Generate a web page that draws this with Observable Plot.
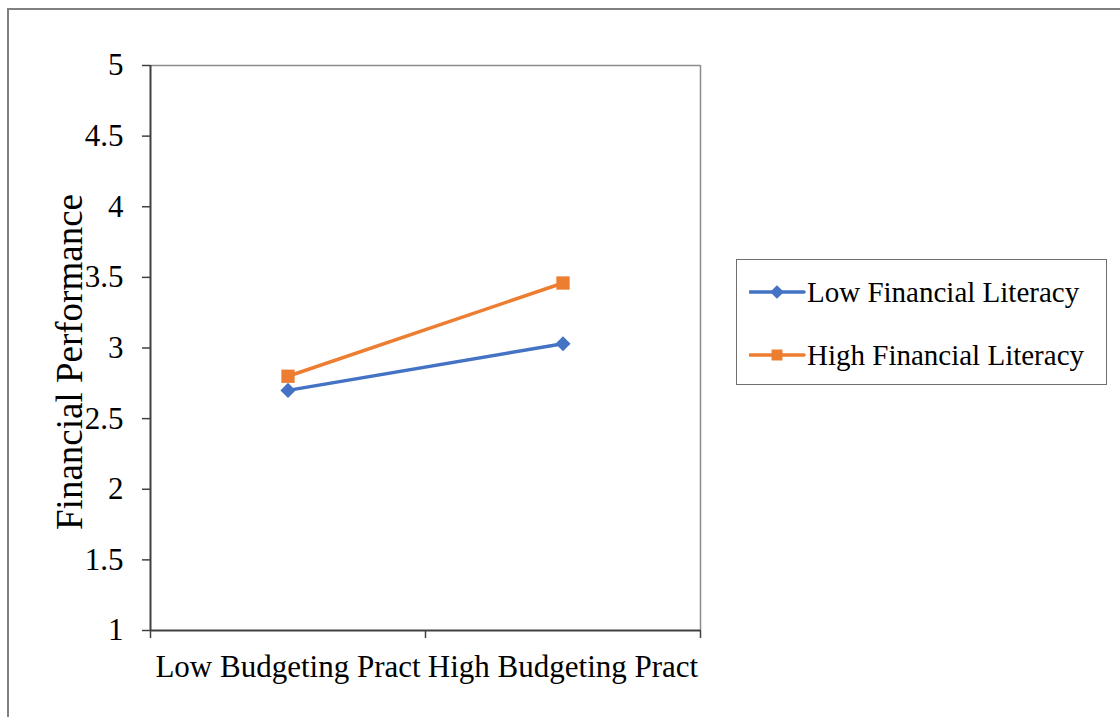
<!DOCTYPE html>
<html>
<head>
<meta charset="utf-8">
<script src="https://cdn.jsdelivr.net/npm/d3@7"></script>
<script src="https://cdn.jsdelivr.net/npm/@observablehq/plot@0.6"></script>
<style>
  html, body { margin: 0; padding: 0; background: #fff; overflow: hidden; }
  #wrap { position: relative; width: 1120px; height: 717px; font-family: "Liberation Serif", "Times New Roman", serif; }
  #outer { position: absolute; left: 7px; top: 8px; width: 1200px; height: 800px; border-left: 2px solid #808080; border-top: 2px solid #808080; }
  #chart { position: absolute; left: 0; top: 0; }
  #legend { position: absolute; left: 736px; top: 259px; width: 371px; height: 126px; box-sizing: border-box; border: 1.5px solid #6f6f6f; background: #fff; }
  #legend .row { position: absolute; left: 12px; height: 34px; display: flex; align-items: center; font-size: 29px; color: #000; white-space: nowrap; }
</style>
</head>
<body>
<div id="wrap">
  <div id="outer"></div>
  <div id="chart"></div>
  <div id="legend"></div>
</div>
<script>
const categories = ["Low Budgeting Pract", "High Budgeting Pract"];
const seriesNames = ["Low Financial Literacy", "High Financial Literacy"];
const lowLiteracy = [2.70, 3.03];
const highLiteracy = [2.80, 3.46];
const seriesColors = ["#4472C4", "#ED7D31"];
const seriesSymbols = ["diamond2", "square"];
const yTicks = [1, 1.5, 2, 2.5, 3, 3.5, 4, 4.5, 5];
const yTitle = "Financial Performance";

const values = [lowLiteracy, highLiteracy];
const data = [];
seriesNames.forEach((s, si) => {
  categories.forEach((c, ci) => {
    data.push({series: s, category: c, pos: ci + 0.5, value: values[si][ci]});
  });
});
const catData = categories.map((c, i) => ({category: c, pos: i + 0.5}));
const lowData = data.filter(d => d.series === seriesNames[0]);
const highData = data.filter(d => d.series === seriesNames[1]);

const chart = Plot.plot({
  width: 1120,
  height: 717,
  marginLeft: 150,
  marginRight: 420,
  marginTop: 65,
  marginBottom: 87,
  style: {fontFamily: "'Liberation Serif', 'Times New Roman', serif", fontSize: "31px", color: "#000", background: "transparent", overflow: "visible"},
  x: {domain: [0, categories.length], axis: null},
  y: {domain: [1, 5], axis: null},
  color: {domain: seriesNames, range: seriesColors},
  marks: [
    Plot.ruleY([5], {stroke: "#8c8c8c", strokeWidth: 1.5}),
    Plot.ruleX([categories.length], {stroke: "#8c8c8c", strokeWidth: 1.5}),
    Plot.axisY({ticks: yTicks, tickSize: 8, tickPadding: 19, tickFormat: d => String(d), fontSize: 31, stroke: "#404040", strokeWidth: 1.5, label: null}),
    Plot.axisX({ticks: d3.range(categories.length + 1), tickSize: 8, tickFormat: () => "", stroke: "#404040", strokeWidth: 1.5, label: null}),
    Plot.ruleX([0], {stroke: "#404040", strokeWidth: 2}),
    Plot.ruleY([1], {stroke: "#404040", strokeWidth: 2}),
    Plot.text(catData, {x: "pos", y: () => 1, text: "category", dy: 37, fontSize: 31, textAnchor: "middle", lineAnchor: "middle", fill: "#000"}),
    Plot.text([yTitle], {frameAnchor: "left", text: d => d, rotate: -90, dx: -80, dy: 14, fontSize: 37, textAnchor: "middle", lineAnchor: "middle", fill: "#000"}),
    Plot.line(data, {x: "pos", y: "value", z: "series", stroke: "series", strokeWidth: 3.5}),
    Plot.dot(lowData, {x: "pos", y: "value", fill: "series", symbol: () => seriesSymbols[0], r: 6.8, stroke: "none"}),
    Plot.dot(highData, {x: "pos", y: "value", fill: "series", symbol: () => seriesSymbols[1], r: 7.5, stroke: "none"})
  ]
});
document.getElementById("chart").appendChild(chart);

// Legend
const legend = d3.select("#legend");
seriesNames.forEach((s, i) => {
  const row = legend.append("div").attr("class", "row").style("top", (i === 0 ? 15 : 78) + "px");
  const svg = row.append("svg").attr("width", 58).attr("height", 20).style("margin-right", "0px");
  svg.append("line").attr("x1", 1).attr("x2", 55).attr("y1", 10).attr("y2", 10)
    .attr("stroke", seriesColors[i]).attr("stroke-width", 3.5).attr("stroke-linecap", "round");
  const sym = i === 0 ? d3.symbolDiamond2 : d3.symbolSquare;
  const size = i === 0 ? 120 : 120;
  svg.append("path").attr("d", d3.symbol(sym, size)()).attr("transform", "translate(28,10)").attr("fill", seriesColors[i]);
  row.append("span").text(s);
});
</script>
</body>
</html>
